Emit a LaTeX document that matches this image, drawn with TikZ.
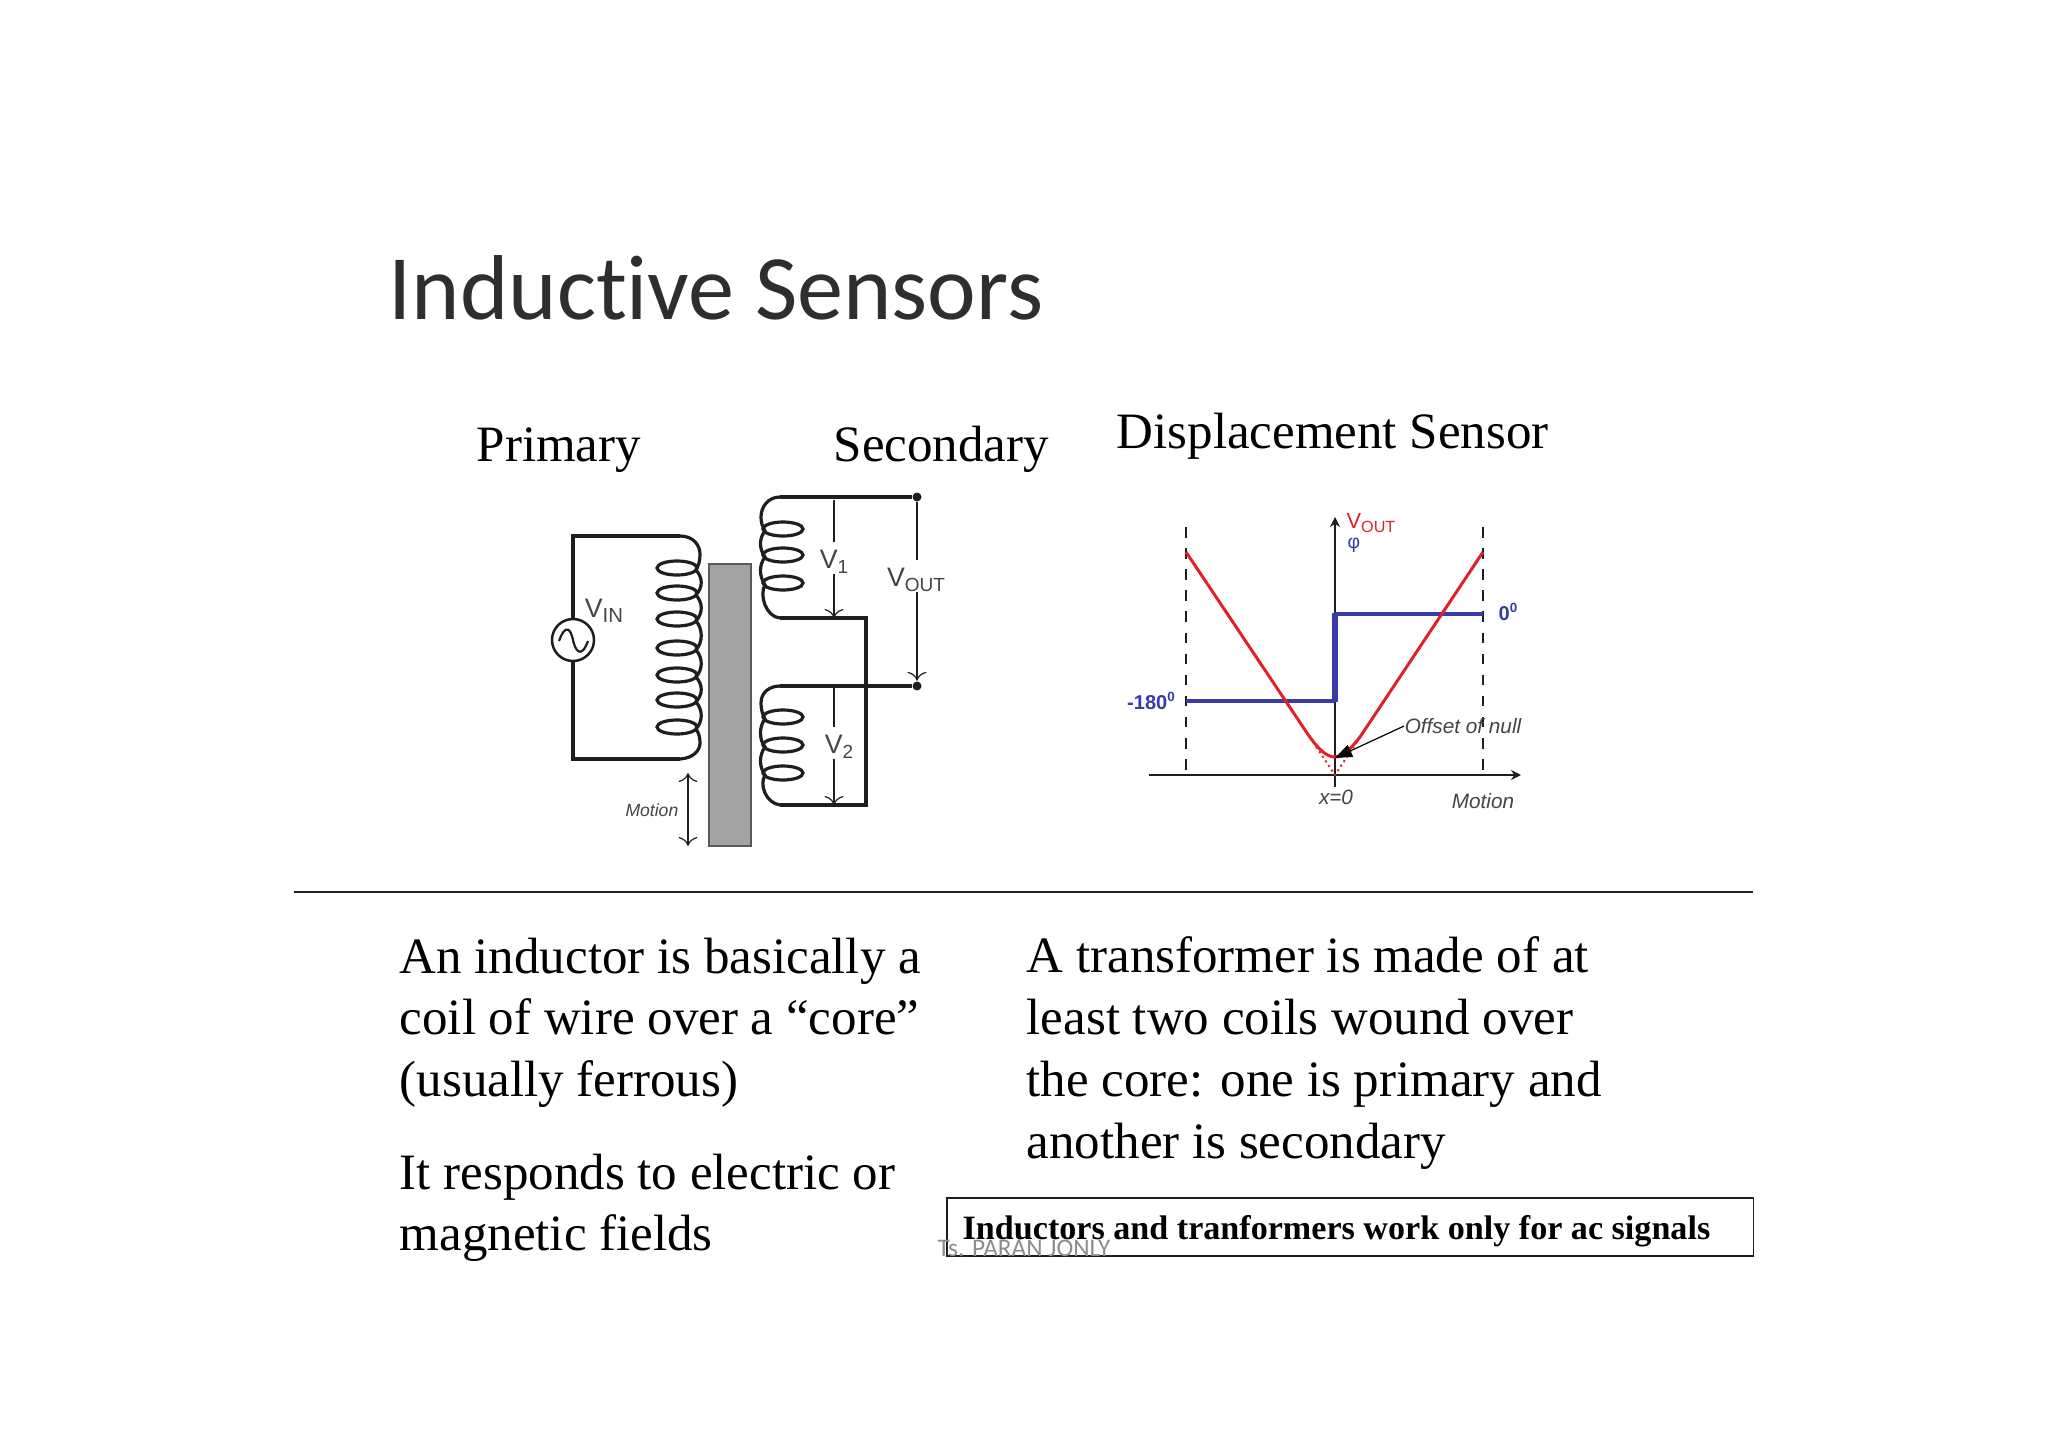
\documentclass[tikz,border=0pt]{standalone}
\usepackage{fontspec}
\usepackage{tikz}
\setmainfont{Liberation Serif}
\newfontfamily\labelfont{Liberation Sans}
\newfontfamily\titlefont[Ligatures=NoCommon]{Carlito}
\usetikzlibrary{positioning,calc,arrows.meta}
\definecolor{wirecol}{HTML}{1E1E1E}
\definecolor{voltcol}{HTML}{444444}
\definecolor{redcol}{HTML}{E0202A}
\definecolor{bluecol}{HTML}{3A3AA8}
\newcommand{\Vsub}[2]{V\raisebox{-0.35ex}{\fontsize{#2}{#2}\selectfont #1}}
\tikzset{
  wire/.style={line width=0.34mm, color=wirecol},
  coil/.style={line width=0.32mm, color=wirecol},
  volt/.style={line width=0.12mm, color=wirecol},
  voltlabel/.style={inner sep=0pt, text=voltcol, font=\labelfont\fontsize{7.6}{8}\selectfont},
  plotlabel/.style={inner sep=0pt, text=voltcol, font=\labelfont\itshape\fontsize{5.9}{6}\selectfont},
  bluelabel/.style={inner sep=0pt, text=bluecol, font=\labelfont\bfseries\fontsize{5.7}{6}\selectfont},
  bodytext/.style={anchor=north west, align=left, inner sep=0pt, font=\fontsize{14.5}{17.6}\selectfont},
  headtext/.style={anchor=base west, inner sep=0pt, font=\fontsize{14.5}{17.6}\selectfont},
}
\begin{document}
\begin{tikzpicture}[x=0.01cm, y=-0.01cm]
    \useasboundingbox (0,0) rectangle (2048,1448);

    % Headings
    \node[anchor=base west, inner sep=0pt, text=black!82, font=\titlefont\fontsize{26.2}{30}\selectfont] (title) at (388,319) {Inductive Sensors};
    \node[headtext] (primary) at (476,461) {Primary};
    \node[headtext] (secondary) at (833,461) {Secondary};
    \node[headtext] (displacement) at (1116,448) {Displacement Sensor};

    % Divider
    \coordinate (divL) at (294,892);
    \coordinate (divR) at (1753,892);
    \draw[line width=0.13mm, color=wirecol] (divL) -- (divR);

    % Primary circuit
    \node[circle, draw=wirecol, line width=0.25mm, minimum size=0.42cm, inner sep=0pt] (source) at (573,640) {};
    \draw[line width=0.22mm, color=wirecol] (559,641) .. controls (566,622) and (571,630) .. (573,640) .. controls (575,650) and (581,660) .. (588,641);
    \coordinate (priTL) at (573,536);
    \coordinate (priTR) at (680,536);
    \coordinate (priBL) at (573,759);
    \coordinate (priBR) at (680,759);
    \draw[wire] (source.north) -- (priTL) -- (priTR);
    \draw[wire] (source.south) -- (priBL) -- (priBR);
    \foreach \y in {568,593,619,648,675,700,727}
        \draw[coil] (677,\y) ellipse (20 and 7);
    \draw[coil] (priTR) .. controls (694,536) and (700,546) .. (700,554) .. controls (700,560) and (699,565) .. (696,570);
    \foreach \ya/\yb in {570/595,595/621,621/650,650/677,677/702,702/729}
        \draw[coil] (696,\ya) .. controls (703,\ya+8) and (703,\yb-8) .. (696,\yb);
    \draw[coil] (priBR) .. controls (694,758) and (700,750) .. (700,743) .. controls (700,738) and (699,733) .. (696,729);

    % Core
    \fill[gray!72, draw=gray!70!black, line width=0.12mm] (709,564) rectangle (751,846);

    % Upper secondary
    \foreach \y in {529,555,583}
        \draw[coil] (783,\y) ellipse (20 and 7);
    \coordinate (secA) at (780,497);
    \coordinate (secB) at (780,618);
    \coordinate (secC) at (866,618);
    \coordinate (secD) at (866,805);
    \coordinate (secE) at (780,805);
    \coordinate (secF) at (780,686);
    \node[circle, fill=wirecol, minimum size=0.09cm, inner sep=0pt] (dotA) at (917,497) {};
    \node[circle, fill=wirecol, minimum size=0.09cm, inner sep=0pt] (dotB) at (917,686) {};
    \draw[wire] (dotA) -- (secA);
    \draw[wire] (secB) -- (secC) -- (secD) -- (secE);
    \draw[wire] (secF) -- (dotB);
    \draw[coil] (secA) .. controls (768,497) and (761,507) .. (761,517) .. controls (761,522) and (762,526) .. (765,531)
        .. controls (759,538) and (759,549) .. (765,557) .. controls (759,565) and (759,576) .. (765,585)
        .. controls (759,595) and (766,617) .. (secB);
    % Lower secondary
    \foreach \y in {717,745,773}
        \draw[coil] (783,\y) ellipse (20 and 7);
    \draw[coil] (secF) .. controls (770,686) and (761,692) .. (761,703) .. controls (761,708) and (762,714) .. (765,719)
        .. controls (759,726) and (759,740) .. (765,747) .. controls (759,755) and (759,767) .. (765,775)
        .. controls (759,785) and (766,803) .. (secE);

    % Voltage labels
    \node[voltlabel] (vin) at (604,611) {\Vsub{IN}{5.8}};
    \node[voltlabel] (vone) at (834,562) {\Vsub{1}{5.4}};
    \node[voltlabel] (vtwo) at (839,747) {\Vsub{2}{5.4}};
    \node[voltlabel] (vout) at (916,580) {\Vsub{OUT}{5.4}};
    \coordinate (voneA) at (834,500);
    \coordinate (voneB) at (834,618);
    \coordinate (vtwoA) at (834,688);
    \coordinate (vtwoB) at (834,805);
    \coordinate (motionA) at (688,773);
    \coordinate (motionB) at (688,846);
    \draw[volt, shorten >=0.08cm] (voneA) -- (vone.north -| voneA);
    \draw[volt, -{To[length=0.09cm]}] (vone.south -| voneA) -- (voneB);
    \draw[volt, shorten >=0.08cm] (vtwoA) -- (vtwo.north -| vtwoA);
    \draw[volt, -{To[length=0.09cm]}] (vtwo.south -| vtwoA) -- (vtwoB);
    \draw[volt, shorten >=0.08cm] (dotA) -- (vout.north -| dotA);
    \draw[volt, -{To[length=0.09cm]}] (vout.south -| dotA) -- (dotB);
    \draw[volt, {To[length=0.09cm]}-{To[length=0.09cm]}] (motionA) -- (motionB);
    \node[plotlabel, left=0.09cm of motionA, yshift=-0.37cm, font=\labelfont\itshape\fontsize{5}{6}\selectfont] (motionlabel) {Motion};

    % Displacement plot
    \coordinate (orig) at (1335,775);
    \coordinate (xL) at (1149,775);
    \coordinate (xR) at (1521,775);
    \coordinate (yB) at (1335,787);
    \coordinate (yT) at (1335,517);
    \coordinate (dashLT) at (1186,527);
    \coordinate (dashLB) at (1186,775);
    \coordinate (dashRT) at (1483,527);
    \coordinate (dashRB) at (1483,775);
    \draw[volt, dashed] (dashLT) -- (dashLB);
    \draw[volt, dashed] (dashRT) -- (dashRB);
    \draw[volt, -{Stealth[length=0.1cm,width=0.1cm]}] (xL) -- (xR);
    \draw[volt, -{Stealth[length=0.1cm,width=0.1cm]}] (yB) -- (yT);
    % blue step
    \draw[bluecol, line width=0.33mm] (1186,701) -- (1335,701);
    \draw[bluecol, line width=0.33mm] (1335,614) -- (1483,614);
    \draw[bluecol, line width=0.53mm] (1335,702) -- (1335,613);
    % red curve
    \draw[redcol, densely dotted, line width=0.2mm] (1307,733) -- (orig) -- (1360,737);
    \draw[redcol, line width=0.3mm] (1186,552) -- (1307,733) .. controls (1320,752) and (1328,757) .. (1335,757) .. controls (1342,757) and (1348,752) .. (1360,737) -- (1483,552);

    \node[inner sep=0pt, text=redcol, font=\labelfont\fontsize{6.2}{7}\selectfont] (voutplot) at (1371,523) {\Vsub{OUT}{4.6}};
    \node[inner sep=0pt, text=bluecol, font=\labelfont\fontsize{5.5}{6}\selectfont] (phi) at (1354,545) {φ};
    \node[bluelabel] (minus) at (1151,701) {-180\raisebox{0.7ex}{\fontsize{3.8}{4}\selectfont 0}};
    \node[bluelabel] (zero) at (1508,612) {0\raisebox{0.7ex}{\fontsize{3.8}{4}\selectfont 0}};
    \node[plotlabel] (xzero) at (1336,797) {x=0};
    \node[plotlabel] (motionplot) at (1483,801) {Motion};
    \node[plotlabel] (offset) at (1463,726) {Offset of null};
    \draw[line width=0.12mm, -{Triangle[length=0.17cm,width=0.13cm]}] (offset.west) -- (1335,758);

    % Body text
    \node[bodytext] (inductor) at (399,937) {An inductor is basically a\\coil of wire over a “core”\\(usually ferrous)};
    \node[bodytext] (responds) at (399,1153) {It responds to electric or\\magnetic fields};
    \node[bodytext] (transformer) at (1026,936) {A transformer is made of at\\least two coils wound over\\the core: one is primary and\\another is secondary};

    % Note box and footer
    \node[draw=wirecol, line width=0.15mm, minimum width=8.06cm, minimum height=0.58cm, inner sep=0pt] (notebox) at (1350,1227) {};
    \node[anchor=base west, inner sep=0pt, font=\bfseries\fontsize{9.7}{11}\selectfont] (note) at (962,1239) {Inductors and tranformers work only for ac signals};
    \node[anchor=base west, inner sep=0pt, text=gray!90, font=\titlefont\fontsize{7.2}{8}\selectfont] (footer) at (937,1256) {Ts. PARAN JONLY};
\end{tikzpicture}
\end{document}
